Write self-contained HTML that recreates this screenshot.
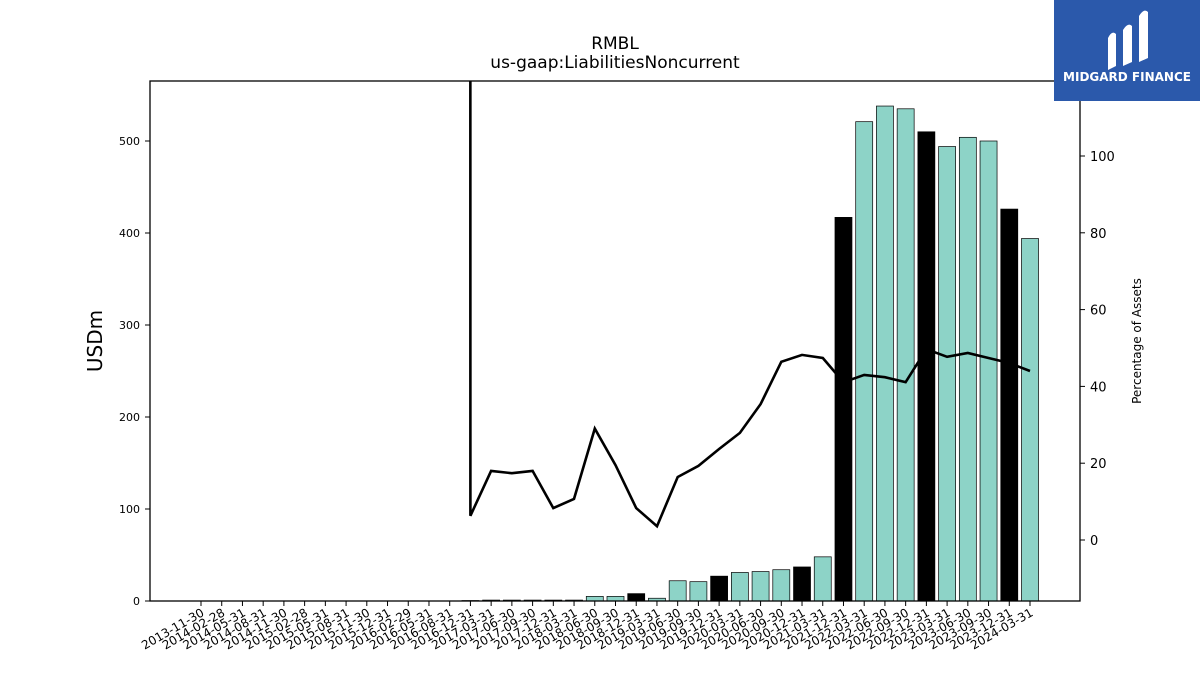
<!DOCTYPE html>
<html><head><meta charset="utf-8"><style>
body{margin:0;background:#fff;font-family:"Liberation Sans","DejaVu Sans",sans-serif}
</style></head><body>
<svg width="1200" height="675" xmlns="http://www.w3.org/2000/svg" font-family="DejaVu Sans, Liberation Sans, sans-serif">
<g id="chart"></g>
<g>
<rect x="1054" y="0" width="146" height="101" fill="#2b59ab"/>
<path d="M1108 70 L1108 38 Q1112 30 1116 34 L1116 66 Z M1123 66 L1123 30 Q1128 22 1132 26 L1132 62 Z M1139 62 L1139 16 Q1144 8 1148 12 L1148 58 Z" fill="#fff"/>
<text x="1127" y="81" text-anchor="middle" fill="#fff" font-size="12" font-weight="bold">MIDGARD FINANCE</text>
</g>
</svg>
<script>
const categories=["2013-11-30","2014-02-28","2014-05-31","2014-08-31","2014-11-30","2015-02-28","2015-05-31","2015-08-31","2015-11-30","2015-12-31","2016-02-29","2016-05-31","2016-08-31","2016-12-31","2017-03-31","2017-06-30","2017-09-30","2017-12-31","2018-03-31","2018-06-30","2018-09-30","2018-12-31","2019-03-31","2019-06-30","2019-09-30","2019-12-31","2020-03-31","2020-06-30","2020-09-30","2020-12-31","2021-03-31","2021-12-31","2022-03-31","2022-06-30","2022-09-30","2022-12-31","2023-03-31","2023-06-30","2023-09-30","2023-12-31","2024-03-31"];
const liabilities=[0,0,0,0,0,0,0,0,0,0,0,0,0,0.5,1,1,1,1,1,5,5,8,3,22,21,27,31,32,34,37,48,417,521,538,535,510,494,504,500,426,394];
const pctAssets=[null,null,null,null,null,null,null,null,null,null,null,null,50000,6.3,18,17.4,18,8.3,10.7,29,19.5,8.3,3.6,16.4,19.3,23.7,27.9,35.4,46.4,48.2,47.4,41.1,43,42.4,41.1,49.7,47.7,48.7,47.4,46.1,44];
const yearEnd=[false,false,false,false,false,false,false,false,false,true,false,false,false,true,false,false,false,true,false,false,false,true,false,false,false,true,false,false,false,true,false,true,false,false,false,true,false,false,false,true,false];
const leftTicks=[0,100,200,300,400,500];
const rightTicks=[0,20,40,60,80,100];

const NS="http://www.w3.org/2000/svg";
const g=document.getElementById('chart');
const L=150,R=1080,T=81,B=601;
const xs=i=>201+i*(1030-201)/(categories.length-1);
const yL=v=>601-v*0.92;
const yR=v=>540-v*3.84;
function mk(t,a,p){const e=document.createElementNS(NS,t);for(const k in a)e.setAttribute(k,a[k]);(p||g).appendChild(e);return e;}
const clip=mk('clipPath',{id:'pc'});mk('rect',{x:L,y:T,width:R-L,height:B-T},clip);
// bars
liabilities.forEach((v,i)=>{const bw=17;const r=mk('rect',{x:xs(i)-bw/2,y:yL(v),width:bw,height:Math.max(0,B-yL(v)),fill:yearEnd[i]?'#000':'#8dd3c7',stroke:'#000','stroke-width':0.7});

});
// line
let d='';pctAssets.forEach((v,i)=>{if(v==null)return;d+=(d?'L':'M')+xs(i).toFixed(1)+' '+yR(v).toFixed(1);});
const ln=mk('path',{d:d,fill:'none',stroke:'#000','stroke-width':2.6,'clip-path':'url(#pc)'});


// frame
const fr=mk('rect',{x:L,y:T,width:R-L,height:B-T,fill:'none',stroke:'#000','stroke-width':1.3});


leftTicks.forEach(v=>{mk('line',{x1:L-5,x2:L,y1:yL(v),y2:yL(v),stroke:'#000'});const t=mk('text',{x:L-10,y:yL(v)+4,'text-anchor':'end','font-size':11});t.textContent=v;

});
rightTicks.forEach(v=>{mk('line',{x1:R,x2:R+5,y1:yR(v),y2:yR(v),stroke:'#000'});const t=mk('text',{x:R+10,y:yR(v)+5,'font-size':13});t.textContent=v;

});
categories.forEach((c,i)=>{mk('line',{x1:xs(i),x2:xs(i),y1:B,y2:B+5,stroke:'#000'});const t=mk('text',{x:xs(i)+4,y:B+14,'text-anchor':'end','font-size':12,transform:`rotate(-30 ${xs(i)+4} ${B+14})`});t.textContent=c;

});
const yt=mk('text',{x:102,y:341,'text-anchor':'middle','font-size':20,transform:'rotate(-90 102 341)'});yt.textContent='USDm';


const rt=mk('text',{x:1141,y:341,'text-anchor':'middle','font-size':12,transform:'rotate(-90 1141 341)'});rt.textContent='Percentage of Assets';


const t1=mk('text',{x:615,y:49,'text-anchor':'middle','font-size':17});t1.textContent='RMBL';


const t2=mk('text',{x:615,y:68,'text-anchor':'middle','font-size':17});t2.textContent='us-gaap:LiabilitiesNoncurrent';


</script>
</body></html>
